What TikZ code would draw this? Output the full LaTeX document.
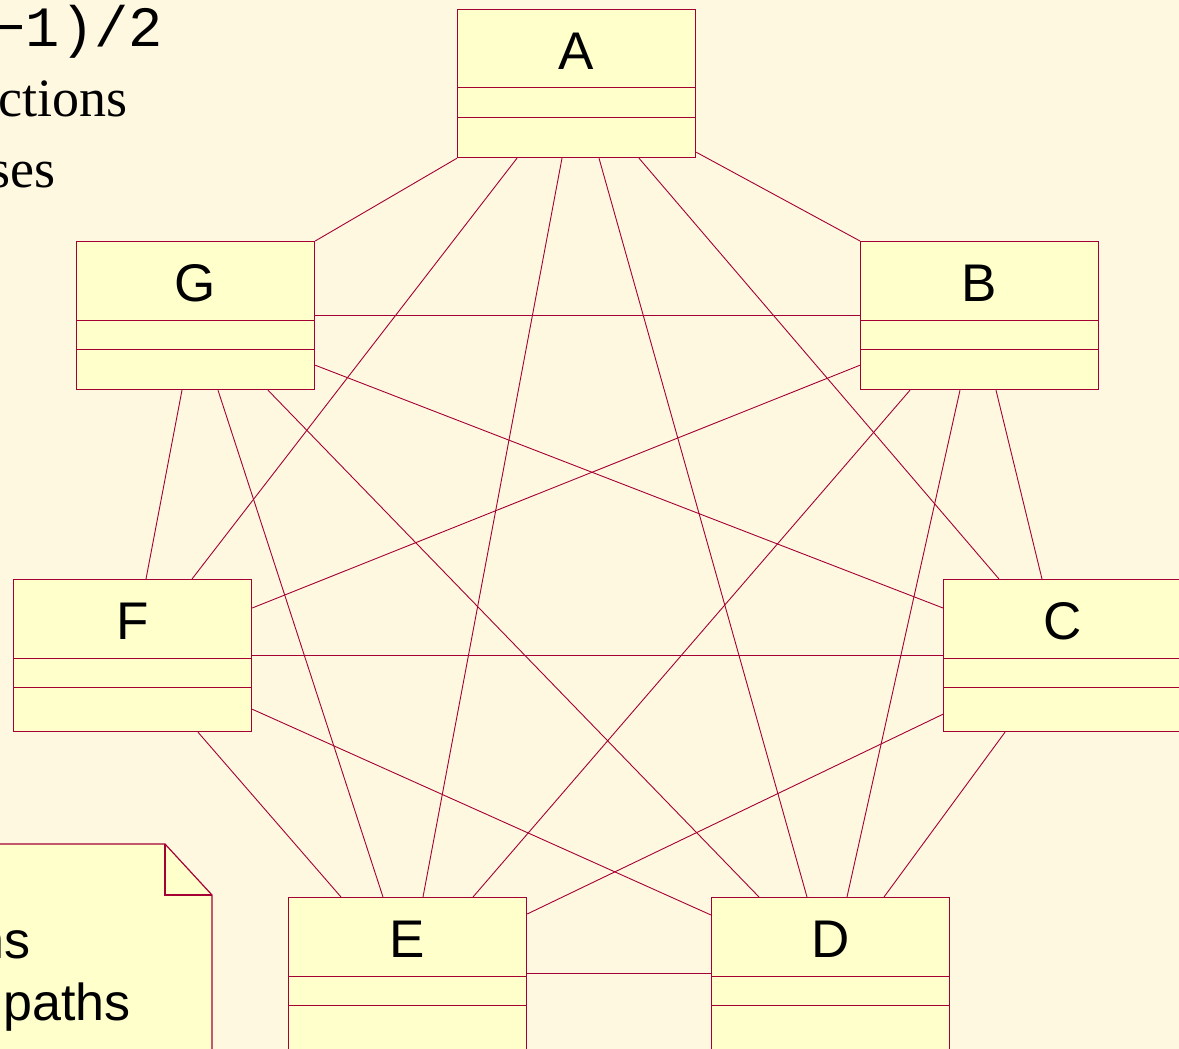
\documentclass[tikz,border=0pt]{standalone}
\usepackage{fontspec}
\setmainfont{Liberation Serif}
\setsansfont{Liberation Sans}
\setmonofont{Liberation Mono}
\usetikzlibrary{calc}
\definecolor{slidecream}{RGB}{254,248,225}
\definecolor{classfill}{RGB}{255,255,204}
\definecolor{classred}{RGB}{165,0,51}

\begin{document}
\begin{tikzpicture}[x=1pt, y=-1pt,
  classbox/.style={draw=classred, fill=classfill, line width=1.2pt, minimum width=238pt, anchor=north west, inner sep=0pt},
  classname/.style={font=\sffamily\fontsize{53}{60}\selectfont, inner sep=0pt},
  divider/.style={draw=classred, line width=1pt},
  link/.style={draw=classred, line width=0.9pt},
  slidetext/.style={anchor=base east, inner sep=0pt}
]
  \useasboundingbox (0,0) rectangle (1179,1049);
  \fill[slidecream] (0,0) rectangle (1179,1049);
  \clip (0,0) rectangle (1179,1049);

  \node[slidetext, font=\ttfamily\fontsize{57}{60}\selectfont] (formula) at (163,47) {−1)/2};
  \node[slidetext, font=\fontsize{54}{60}\selectfont] (line-two) at (128,117) {ctions};
  \node[slidetext, font=\fontsize{54}{60}\selectfont] (line-three) at (56,187) {ses};

  \foreach \cname/\bx/\by/\bh in {A/457/9/148, G/76/241/148, B/860/241/148, F/13/579/152,
                                 C/943/579/152, E/288/897/152, D/711/897/152} {
    \node[classbox, minimum height=\bh pt] (\cname) at (\bx,\by) {};
    \node[classname] (\cname-name) at ($(\cname.north)+(0,42)$) {\cname};
    \draw[divider] ($(\cname.north west)+(0,79)$) -- ($(\cname.north east)+(0,79)$);
    \draw[divider] ($(\cname.north west)+(0,108)$) -- ($(\cname.north east)+(0,108)$);
  }

  \draw[link] (A.south west) -- (G.north east);
  \draw[link] ($(A.south west)+(60,0)$) -- ($(F.north west)+(179,0)$);
  \draw[link] ($(A.south west)+(105,0)$) -- ($(E.north west)+(135,0)$);
  \draw[link] ($(A.south west)+(142,0)$) -- ($(D.north west)+(96,0)$);
  \draw[link] ($(A.south west)+(182,0)$) -- ($(C.north west)+(56,0)$);
  \draw[link] ($(A.south east)+(0,-6)$) -- (B.north west);
  \draw[link] (G.east) -- (B.west);
  \draw[link] ($(G.south west)+(106,0)$) -- ($(F.north west)+(133,0)$);
  \draw[link] ($(G.south west)+(142,0)$) -- ($(E.north west)+(95,0)$);
  \draw[link] ($(G.south west)+(192,0)$) -- ($(D.north west)+(48,0)$);
  \draw[link] ($(G.south east)+(0,-25)$) -- ($(C.north west)+(0,29)$);
  \draw[link] ($(B.south west)+(0,-25)$) -- ($(F.north east)+(0,29)$);
  \draw[link] ($(B.south west)+(50,0)$) -- ($(E.north west)+(185,0)$);
  \draw[link] ($(B.south west)+(100,0)$) -- ($(D.north west)+(136,0)$);
  \draw[link] ($(B.south west)+(136,0)$) -- ($(C.north west)+(99,0)$);
  \draw[link] (F.east) -- (C.west);
  \draw[link] ($(F.south west)+(185,0)$) -- ($(E.north west)+(53,0)$);
  \draw[link] ($(F.south east)+(0,-23)$) -- ($(D.north west)+(0,18)$);
  \draw[link] ($(C.south west)+(0,-18)$) -- ($(E.north east)+(0,17)$);
  \draw[link] ($(C.south west)+(62,0)$) -- ($(D.north west)+(173,0)$);
  \draw[link] ($(E.north east)+(0,76)$) -- ($(D.north west)+(0,76)$);

  \draw[classred, fill=classfill, line width=1.2pt] (-5,844) -- (165,844) -- (212,895) -- (212,1060) -- (-5,1060) -- cycle;
  \draw[classred, line width=1.2pt] (165,844) -- (165,895) -- (212,895);
  \node[slidetext, font=\sffamily\fontsize{52}{60}\selectfont] (note-one) at (31,958) {ns};
  \node[slidetext, font=\sffamily\fontsize{52}{60}\selectfont] (note-two) at (131,1020) {paths};
\end{tikzpicture}
\end{document}
